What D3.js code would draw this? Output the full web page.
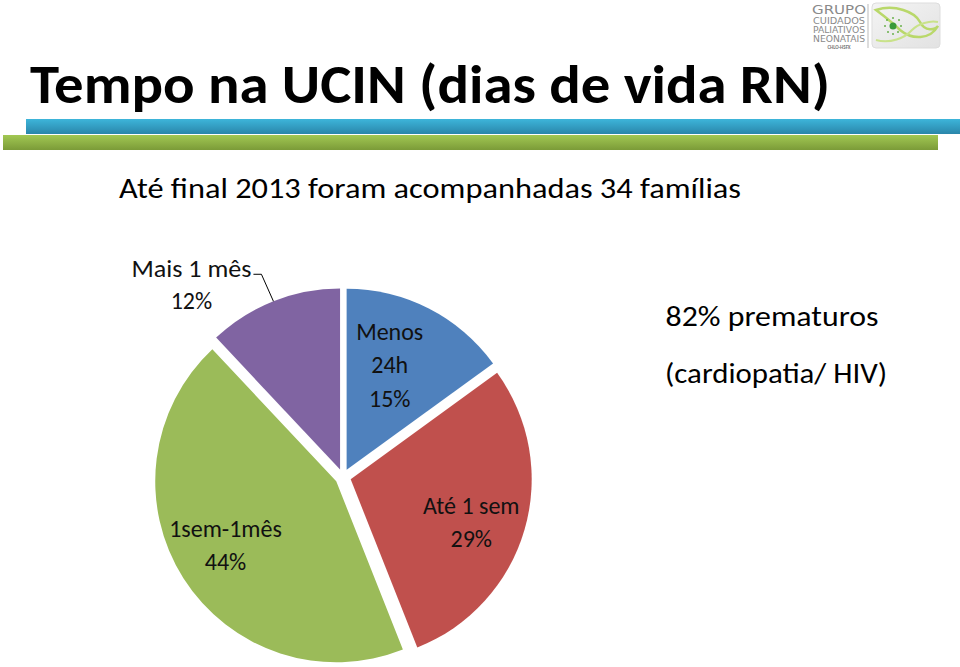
<!DOCTYPE html>
<html><head><meta charset="utf-8">
<script src="https://cdn.jsdelivr.net/npm/d3@7/dist/d3.min.js"></script>
<style>
html,body{margin:0;padding:0;background:#fff;}
svg{display:block;font-family:Carlito,Calibri,Lato,"Open Sans",sans-serif;}
</style></head>
<body>
<svg id="c" width="960" height="667"></svg>
<script>
// ---- data ----
const categories = ["Menos 24h", "Até 1 sem", "1sem-1mês", "Mais 1 mês"];
const labelLines = [["Menos", "24h"], ["Até 1 sem"], ["1sem-1mês"], ["Mais 1 mês"]];
const values = [15, 29, 44, 12];
const colors = ["#4F81BD", "#C0504D", "#9BBB59", "#8064A2"];
const title = "Tempo na UCIN (dias de vida RN)";
const subtitle = "Até final 2013 foram acompanhadas 34 famílias";
const notes = ["82% prematuros", "(cardiopatia/ HIV)"];
const logoLines = ["GRUPO", "CUIDADOS", "PALIATIVOS", "NEONATAIS"];

const svg = d3.select("#c");
const defs = svg.append("defs");

// gradients for header bars
const gb = defs.append("linearGradient").attr("id","gBlue").attr("x1",0).attr("y1",0).attr("x2",0).attr("y2",1);
gb.append("stop").attr("offset","0%").attr("stop-color","#3DB5DA");
gb.append("stop").attr("offset","100%").attr("stop-color","#2A86AA");
const gg = defs.append("linearGradient").attr("id","gGreen").attr("x1",0).attr("y1",0).attr("x2",0).attr("y2",1);
gg.append("stop").attr("offset","0%").attr("stop-color","#A2C853");
gg.append("stop").attr("offset","100%").attr("stop-color","#7B9B38");
const gl = defs.append("linearGradient").attr("id","gLogo").attr("x1",0).attr("y1",0).attr("x2",1).attr("y2",1);
gl.append("stop").attr("offset","0%").attr("stop-color","#f4f4f4");
gl.append("stop").attr("offset","100%").attr("stop-color","#e2e2e2");

// header bars
svg.append("rect").attr("x",26).attr("y",119).attr("width",940).attr("height",15).attr("fill","url(#gBlue)");
svg.append("rect").attr("x",3).attr("y",135).attr("width",935).attr("height",15).attr("fill","url(#gGreen)");

// title
svg.append("text").attr("x",30).attr("y",103)
  .attr("font-size",54).attr("font-weight","bold").attr("fill","#000")
  .attr("textLength",800).attr("lengthAdjust","spacingAndGlyphs").text(title);

// subtitle
svg.append("text").attr("x",119).attr("y",198)
  .attr("font-size",28).attr("fill","#000")
  .attr("textLength",622).attr("lengthAdjust","spacingAndGlyphs").text(subtitle);

// logo
const logo = svg.append("g");
const logoY = [14, 24, 33, 42];
const logoFs = [13, 9, 9, 9];
logo.selectAll("text.l").data(logoLines).join("text")
  .attr("x",839).attr("y",(d,i)=> logoY[i])
  .attr("text-anchor","middle").attr("fill","#8a8a8a")
  .attr("font-size",(d,i)=> logoFs[i])
  .attr("font-family","'Liberation Sans Narrow','DejaVu Sans Condensed',sans-serif")
  .attr("textLength",(d,i)=> i===0 ? 54 : 52).attr("lengthAdjust","spacingAndGlyphs")
  .text(d=>d);
logo.append("text").attr("x",839).attr("y",49).attr("text-anchor","middle")
  .attr("font-size",5).attr("font-weight","bold").attr("fill","#777").text("CHLO-HSFX");
logo.append("line").attr("x1",868).attr("x2",868).attr("y1",4).attr("y2",48).attr("stroke","#bbb");
logo.append("rect").attr("x",872).attr("y",3).attr("width",68).attr("height",45).attr("rx",4)
  .attr("fill","url(#gLogo)").attr("stroke","#ddd");
logo.append("path").attr("d","M876,10 C895,4 915,12 920,22 C925,32 935,30 938,26 C930,40 912,40 900,30 C892,22 884,16 876,10 Z")
  .attr("fill","none").attr("stroke","#b9d86a").attr("stroke-width",2.5);
logo.append("path").attr("d","M876,40 C890,44 905,38 912,30 C918,24 930,20 938,22")
  .attr("fill","none").attr("stroke","#c9e28a").attr("stroke-width",2);
logo.append("circle").attr("cx",893).attr("cy",26).attr("r",3.5).attr("fill","#3a9a3a");
const dots = [[887,20],[899,20],[888,32],[898,32],[893,18],[893,34],[885,26],[901,26]];
logo.selectAll("circle.d").data(dots).join("circle").attr("cx",d=>d[0]).attr("cy",d=>d[1]).attr("r",1)
  .attr("fill","#6ab04c");

// pie
const cx = 343, cy = 477, R = 181, explode = 8;
const pie = d3.pie().sort(null).value(d=>d).startAngle(0).endAngle(2*Math.PI);
const arcs = pie(values);
const arc = d3.arc().innerRadius(0).outerRadius(R);
const g = svg.append("g").attr("transform",`translate(${cx},${cy})`);
const pt = (a, r) => [Math.sin(a)*r, -Math.cos(a)*r];

const slices = g.selectAll("g.s").data(arcs).join("g")
  .attr("transform", d => {
    const m = (d.startAngle + d.endAngle)/2;
    const [x,y] = pt(m, explode);
    return `translate(${x},${y})`;
  });
slices.append("path").attr("d", arc).attr("fill",(d,i)=>colors[i]);

// inside labels (first three slices)
const inside = [{r:113, da:-0.08}, {r:128, da:0.06}, {r:128, da:0.04}];
slices.filter((d,i)=> i<3).each(function(d,i){
  const m = (d.startAngle + d.endAngle)/2 + inside[i].da;
  const [x,y] = pt(m, inside[i].r);
  const lines = labelLines[i].concat([values[i]+"%"]);
  const lh = i===0 ? 33.5 : 33;
  const t = d3.select(this).append("text").attr("text-anchor","middle")
    .attr("font-size",24).attr("fill","#111");
  lines.forEach((s,k)=>{
    t.append("tspan").attr("x",x).attr("y", y + (k - (lines.length-1)/2)*lh + 8).text(s);
  });
});

// outside label with leader (last slice)
slices.filter((d,i)=> i===3).each(function(d){
  const i = 3;
  const m = (d.startAngle + d.endAngle)/2;
  const p0 = pt(m, R);
  const p1 = [p0[0]-12, p0[1]-27];
  const p2 = [p1[0]-8, p1[1]];
  d3.select(this).append("path").attr("d", d3.line()([p0,p1,p2]))
    .attr("fill","none").attr("stroke","#000").attr("stroke-width",1);
  const t = d3.select(this).append("text").attr("text-anchor","middle")
    .attr("font-size",24).attr("fill","#111");
  const lx = p2[0]-62;
  t.append("tspan").attr("x",lx).attr("y",p2[1]+3)
    .attr("textLength",120).attr("lengthAdjust","spacingAndGlyphs").text(labelLines[i][0]);
  t.append("tspan").attr("x",lx).attr("y",p2[1]+35).text(values[i]+"%");
});

// side notes
svg.selectAll("text.n").data(notes).join("text")
  .attr("x",(d,i)=> i===0 ? 772 : 776).attr("y",(d,i)=> i===0 ? 326 : 383)
  .attr("text-anchor","middle").attr("font-size",28).attr("fill","#000")
  .attr("textLength",(d,i)=> i===0 ? 213 : 222).attr("lengthAdjust","spacingAndGlyphs")
  .text(d=>d);
</script>
</body></html>
